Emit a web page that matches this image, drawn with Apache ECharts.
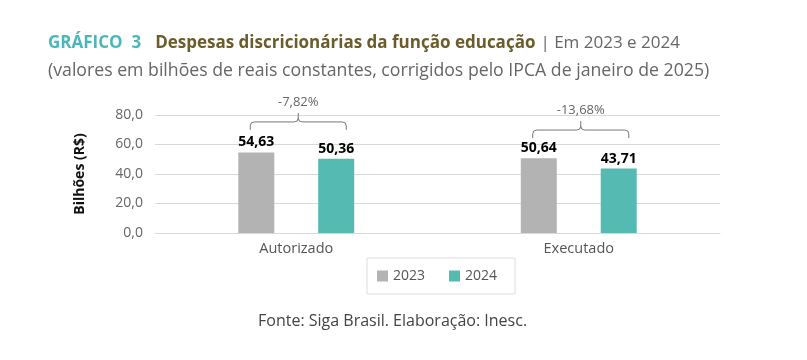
<!DOCTYPE html>
<html><head><meta charset="utf-8">
<script src="https://cdn.jsdelivr.net/npm/echarts@6/dist/echarts.min.js"></script>
<style>html,body{margin:0;padding:0;background:#fff}#c{width:807px;height:360px}</style>
</head><body><div id="c"></div>
<script>
const categories = ['Autorizado', 'Executado'];
const seriesNames = ['2023', '2024'];
const values2023 = [54.63, 50.64];
const values2024 = [50.36, 43.71];
const changeLabels = ['-7,82%', '-13,68%'];
const bracketLevels = [75.3, 69.8];
const yTicks = [0, 20, 40, 60, 80];

const FONT = '"Open Sans", "DejaVu Sans", sans-serif';
const fmt2 = v => v.toFixed(2).replace('.', ',');
const fmt1 = v => v.toFixed(1).replace('.', ',');

const chart = echarts.init(document.getElementById('c'));
const bracketData = categories.map((c, i) => [i, bracketLevels[i], changeLabels[i]]);

chart.setOption({
  animation: false,
  backgroundColor: '#fff',
  title: [
    {
      left: 43, top: 29,
      text: '{a|GRÁFICO  3}{b|Despesas discricionárias da função educação} {c|| Em 2023 e 2024}',
      textStyle: {
        rich: {
          a: { fontFamily: FONT, fontSize: 17, fontWeight: 'bold', color: '#4cb7b9', padding: [0, 14, 0, 0] },
          b: { fontFamily: FONT, fontSize: 17, fontWeight: 'bold', color: '#6b5c2c' },
          c: { fontFamily: FONT, fontSize: 17, fontWeight: 'normal', color: '#666' }
        }
      }
    },
    {
      left: 43, top: 57,
      text: '(valores em bilhões de reais constantes, corrigidos pelo IPCA de janeiro de 2025)',
      textStyle: { fontFamily: FONT, fontSize: 17.7, fontWeight: 'normal', color: '#666' }
    },
    {
      left: 253, top: 308,
      text: 'Fonte: Siga Brasil. Elaboração: Inesc.',
      textStyle: { fontFamily: FONT, fontSize: 16, fontWeight: 'normal', color: '#444' }
    }
  ],
  legend: {
    data: seriesNames,
    left: 367, top: 258,
    padding: [11, 18, 11, 10],
    borderColor: '#ddd', borderWidth: 1,
    itemWidth: 11, itemHeight: 11, itemGap: 24,
    icon: 'rect',
    textStyle: { fontFamily: FONT, fontSize: 14, color: '#555' }
  },
  grid: { left: 155, right: 87, top: 115, bottom: 127 },
  xAxis: {
    type: 'category',
    data: categories,
    axisLine: { show: true, lineStyle: { color: '#d9d9d9' } },
    axisTick: { show: false },
    axisLabel: { fontFamily: FONT, fontSize: 14.5, color: '#555', margin: 8 }
  },
  yAxis: {
    type: 'value',
    min: yTicks[0], max: yTicks[yTicks.length - 1], interval: yTicks[1] - yTicks[0],
    name: 'Bilhões (R$)',
    nameLocation: 'middle', nameRotate: 90, nameGap: 68,
    nameTextStyle: { fontFamily: FONT, fontSize: 14, fontWeight: 'bold', color: '#111' },
    axisLine: { show: false }, axisTick: { show: false },
    axisLabel: { fontFamily: FONT, fontSize: 14, color: '#666', margin: 12, formatter: v => fmt1(v) },
    splitLine: { lineStyle: { color: '#d9d9d9', width: 1 } }
  },
  series: [
    {
      name: seriesNames[0], type: 'bar', data: values2023,
      barWidth: 36, barGap: '122%',
      itemStyle: { color: '#b3b3b3' },
      label: { show: true, position: 'top', distance: 3, formatter: p => fmt2(p.value),
        fontFamily: FONT, fontSize: 14, fontWeight: 'bold', color: '#000' }
    },
    {
      name: seriesNames[1], type: 'bar', data: values2024,
      barWidth: 36,
      itemStyle: { color: '#55bab2' },
      label: { show: true, position: 'top', distance: 3, formatter: p => fmt2(p.value),
        fontFamily: FONT, fontSize: 14, fontWeight: 'bold', color: '#000' }
    },
    {
      type: 'custom', silent: true, clip: false,
      data: bracketData,
      encode: { x: 0, y: 1 },
      renderItem: function (params, api) {
        const p = api.coord([api.value(0), api.value(1)]);
        const band = api.size([1, 0])[0];
        const hw = band * 0.17;
        const x = p[0] + 2, y = p[1];
        const d = 8, r = 4, pk = 9;
        const path = 'M' + (x - hw) + ',' + (y + d) +
          ' L' + (x - hw) + ',' + (y + r) +
          ' Q' + (x - hw) + ',' + y + ' ' + (x - hw + r) + ',' + y +
          ' L' + (x - r) + ',' + y +
          ' Q' + x + ',' + y + ' ' + x + ',' + (y - r) +
          ' L' + x + ',' + (y - pk) +
          ' M' + x + ',' + (y - r) +
          ' Q' + x + ',' + y + ' ' + (x + r) + ',' + y +
          ' L' + (x + hw - r) + ',' + y +
          ' Q' + (x + hw) + ',' + y + ' ' + (x + hw) + ',' + (y + r) +
          ' L' + (x + hw) + ',' + (y + d);
        return {
          type: 'group',
          children: [
            { type: 'path', shape: { pathData: path },
              style: { stroke: '#777', lineWidth: 1, fill: null } },
            { type: 'text', x: x, y: y - pk - 4,
              style: { text: api.value(2), textAlign: 'center', textVerticalAlign: 'bottom',
                fontFamily: FONT, fontSize: 13, fill: '#666' } }
          ]
        };
      }
    }
  ]
});
</script></body></html>
